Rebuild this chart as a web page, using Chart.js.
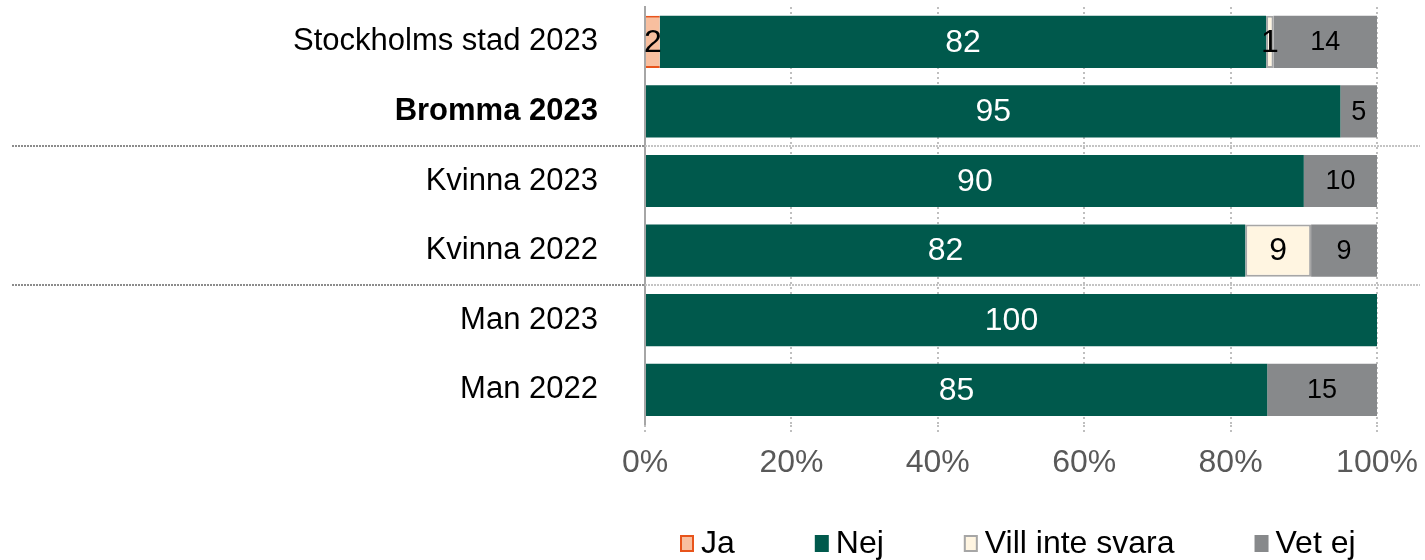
<!DOCTYPE html>
<html>
<head>
<meta charset="utf-8">
<script src="https://cdn.jsdelivr.net/npm/chart.js@4.4.0/dist/chart.umd.min.js"></script>
<style>
  html, body { margin: 0; padding: 0; background: #fff; }
  #wrap { width: 1425px; height: 560px; position: relative; }
</style>
</head>
<body>
<div id="wrap"><canvas id="chart"></canvas></div>
<script>
// answers per group, in percent
const categories = ['Stockholms stad 2023', 'Bromma 2023', 'Kvinna 2023', 'Kvinna 2022', 'Man 2023', 'Man 2022'];
const ja       = [2, 0, 0, 0, 0, 0];
const nej      = [82, 95, 90, 82, 100, 85];
const villInte = [1, 0, 0, 9, 0, 0];
const vetEj    = [14, 5, 10, 9, 0, 15];
const xTicks   = [0, 20, 40, 60, 80, 100];
const groupBreaks = [2, 4]; // dotted rule drawn above these rows

const FONT = '"Liberation Sans", Arial, sans-serif';

// 100% stacked: each row is scaled to its own total
const totals = categories.map((c, i) => ja[i] + nej[i] + villInte[i] + vetEj[i]);
function share(arr) {
    return arr.map((v, i) => v / totals[i] * 100);
}

// value labels in the middle of each segment
const valueLabels = {
    id: 'valueLabels',
    afterDatasetsDraw(chart) {
        const ctx = chart.ctx;
        chart.data.datasets.forEach((ds, di) => {
            const meta = chart.getDatasetMeta(di);
            meta.data.forEach((bar, i) => {
                const v = ds.raw[i];
                if (!v) return;
                const p = bar.getProps(['x', 'y', 'base'], true);
                ctx.save();
                ctx.fillStyle = ds.labelColor;
                ctx.font = ds.labelSize + 'px ' + FONT;
                ctx.textAlign = 'center';
                ctx.textBaseline = 'middle';
                ctx.fillText(String(v), (p.x + p.base) / 2, p.y + 1);
                ctx.restore();
            });
        });
    }
};

// dotted rules between the groups
const groupLines = {
    id: 'groupLines',
    afterDatasetsDraw(chart) {
        const ctx = chart.ctx;
        const y = chart.scales.y;
        const area = chart.chartArea;
        groupBreaks.forEach(idx => {
            const py = Math.round((y.getPixelForValue(idx - 1) + y.getPixelForValue(idx)) / 2);
            ctx.save();
            ctx.lineWidth = 2;
            ctx.setLineDash([2, 1]);
            ctx.strokeStyle = '#8c8c8c';
            ctx.beginPath();
            ctx.moveTo(12, py);
            ctx.lineTo(area.left, py);
            ctx.stroke();
            ctx.strokeStyle = '#c4c4c4';
            ctx.beginPath();
            ctx.moveTo(area.left, py);
            ctx.lineTo(1420, py);
            ctx.stroke();
            ctx.restore();
        });
    }
};

// legend row under the plot
const legendRow = {
    id: 'legendRow',
    afterDraw(chart) {
        const ctx = chart.ctx;
        const area = chart.chartArea;
        ctx.save();
        ctx.font = '32px ' + FONT;
        const items = chart.data.datasets.map(ds => ({ ds: ds, w: 14 + 7 + ctx.measureText(ds.label).width }));
        const gap = 80;
        const total = items.reduce((s, it) => s + it.w, 0) + gap * (items.length - 1);
        let x = Math.round((area.left + area.right) / 2 - total / 2) + 7;
        const y = 543;
        items.forEach(it => {
            const ds = it.ds;
            ctx.fillStyle = ds.backgroundColor;
            ctx.fillRect(x, y - 8, 14, 17);
            if (ds.borderColor) {
                ctx.strokeStyle = ds.borderColor;
                ctx.lineWidth = 2;
                ctx.strokeRect(x + 1, y - 7, 12, 15);
            }
            ctx.fillStyle = '#000';
            ctx.textAlign = 'left';
            ctx.textBaseline = 'middle';
            ctx.fillText(ds.label, x + 21, y + 1);
            x += it.w + gap;
        });
        ctx.restore();
    }
};

new Chart(document.getElementById('chart'), {
    type: 'bar',
    data: {
        labels: categories,
        datasets: [
            {
                label: 'Ja', raw: ja, data: share(ja),
                backgroundColor: '#F8BF9F', borderColor: '#E8541B',
                borderWidth: { top: 2, bottom: 2, left: 0, right: 0 }, borderSkipped: false,
                labelColor: '#000', labelSize: 32
            },
            {
                label: 'Nej', raw: nej, data: share(nej),
                backgroundColor: '#00594C', borderWidth: 0,
                labelColor: '#fff', labelSize: 32
            },
            {
                label: 'Vill inte svara', raw: villInte, data: share(villInte),
                backgroundColor: '#FFF5E1', borderColor: '#A6A6A6',
                borderWidth: 2, borderSkipped: false,
                labelColor: '#000', labelSize: 32
            },
            {
                label: 'Vet ej', raw: vetEj, data: share(vetEj),
                backgroundColor: '#87898B', borderWidth: 0,
                labelColor: '#000', labelSize: 27
            }
        ]
    },
    options: {
        indexAxis: 'y',
        responsive: true,
        maintainAspectRatio: false,
        animation: false,
        events: [],
        layout: { padding: { top: 7, right: 48, bottom: 67, left: 0 } },
        datasets: {
            bar: { categoryPercentage: 0.75, barPercentage: 1 }
        },
        scales: {
            x: {
                stacked: true,
                min: 0,
                max: 100,
                afterBuildTicks: s => { s.ticks = xTicks.map(v => ({ value: v })); },
                afterFit: s => { s.paddingLeft = 0; s.paddingRight = 0; },
                grid: {
                    color: '#BFBFBF', lineWidth: 2,
                    drawTicks: true, tickLength: 8,
                    tickColor: '#BFBFBF', tickWidth: 2, tickBorderDash: [2, 3]
                },
                border: { display: false, dash: [2, 3] },
                ticks: {
                    padding: 11,
                    color: '#595959',
                    font: { family: FONT, size: 32 },
                    callback: v => v + '%'
                }
            },
            y: {
                stacked: true,
                afterFit: s => { s.width = 645; s.paddingTop = 0; s.paddingBottom = 0; },
                grid: { display: false, drawTicks: false },
                border: { display: true, color: '#A6A6A6', width: 2 },
                ticks: {
                    padding: 47,
                    color: '#000',
                    font: ctx => ({ family: FONT, size: 31, weight: ctx.index === 1 ? 'bold' : 'normal' })
                }
            }
        },
        plugins: {
            legend: { display: false },
            tooltip: { enabled: false }
        }
    },
    plugins: [valueLabels, groupLines, legendRow]
});
</script>
</body>
</html>
